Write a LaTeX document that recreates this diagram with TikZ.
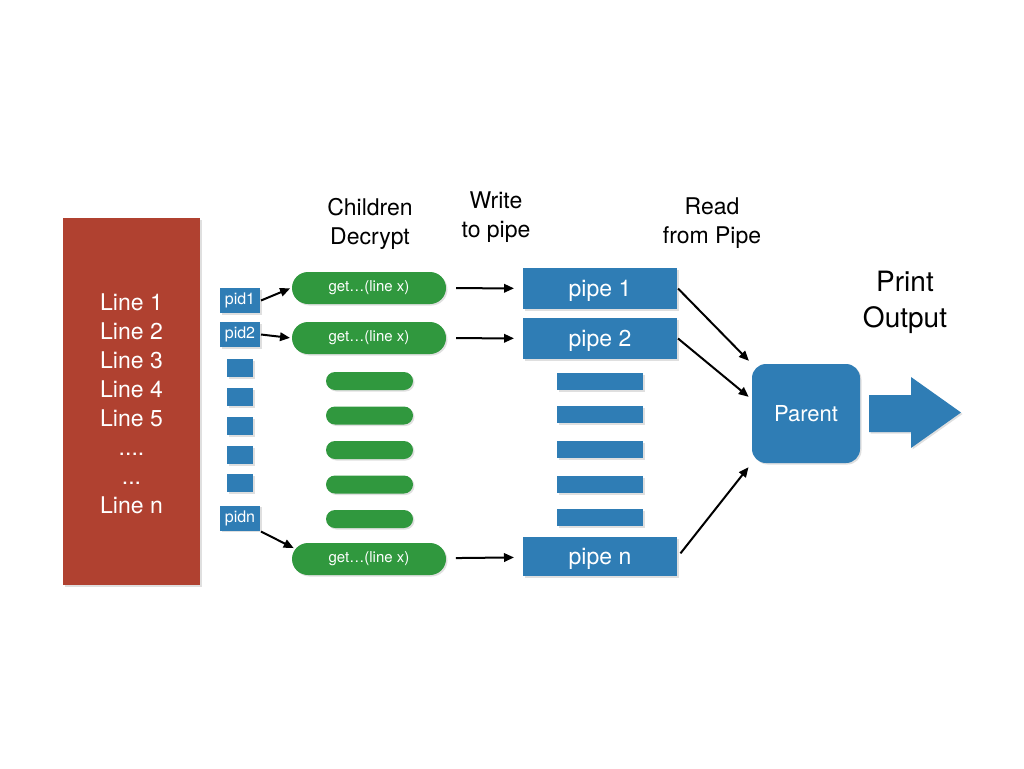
\documentclass[tikz,border=0pt]{standalone}
\usepackage{fontspec}
\setmainfont{TeX Gyre Heros}
\usetikzlibrary{positioning,shapes.misc,shadows,arrows.meta}

\definecolor{linered}{HTML}{B04130}
\definecolor{pipeblue}{HTML}{2F7DB5}
\definecolor{childgreen}{HTML}{30983E}

\tikzset{
  soft/.style={drop shadow={shadow xshift=1.5pt,shadow yshift=-1.5pt,opacity=0.25}},
  linebox/.style={fill=linered,soft,text=white,align=center,
    minimum width=137pt,minimum height=367pt,font=\fontsize{23}{29}\selectfont},
  pidbox/.style={fill=pipeblue,soft,text=white,inner sep=0pt,
    minimum width=40pt,minimum height=25pt,font=\fontsize{16}{18}\selectfont},
  pidstub/.style={fill=pipeblue,soft,inner sep=0pt,minimum width=26pt,minimum height=18pt},
  child/.style={rounded rectangle,fill=childgreen,soft,text=white,inner sep=0pt,
    minimum width=154pt,minimum height=32pt,font=\fontsize{15}{18}\selectfont},
  childstub/.style={rounded rectangle,fill=childgreen,soft,inner sep=0pt,
    minimum width=87pt,minimum height=18pt},
  pipebox/.style={fill=pipeblue,soft,text=white,inner sep=0pt,text depth=0pt,
    minimum width=154pt,minimum height=41pt,font=\fontsize{23}{28}\selectfont},
  pipestub/.style={fill=pipeblue,soft,inner sep=0pt,minimum width=86pt,minimum height=17pt},
  parentbox/.style={fill=pipeblue,soft,text=white,rounded corners=14pt,inner sep=0pt,
    minimum width=108pt,minimum height=99pt,font=\fontsize{22}{26}\selectfont},
  heading/.style={align=center,font=\fontsize{23}{29}\selectfont},
}

\begin{document}
\begin{tikzpicture}[x=1pt,y=-1pt,shorten >=1pt,on grid,
    >={Triangle[length=10pt,width=8.5pt]},line width=2pt]
    \useasboundingbox (0,0) rectangle (1024,768);

    % input lines
    \node[linebox] (lines) at (131.5,401.5) {};
    \node[text=white,align=center,font=\fontsize{23}{29}\selectfont] (linetext) at (131.5,404)
      {Line 1\\Line 2\\Line 3\\Line 4\\Line 5\\....\\...\\Line n};

    % children
    \node[pidbox] (pid1) at (240,300.5) {pid1};
    \node[pidbox] (pid2) at (240,334.5) {pid2};
    \node[pidstub] (s1) at (240,368) {};
    \node[pidstub] (s2) [below = 29pt of s1] {};
    \node[pidstub] (s3) [below = 29pt of s2] {};
    \node[pidstub] (s4) [below = 29pt of s3] {};
    \node[pidstub] (s5) [below = 28pt of s4] {};
    \node[pidbox] (pidn) at (240,518) {pidn};

    \node[child] (get1) at (369,288) {get…(line x)};
    \node[child] (get2) at (369,338) {get…(line x)};
    \node[childstub] (c1) at (369.5,381) {};
    \node[childstub] (c2) [below = 34.5pt of c1] {};
    \node[childstub] (c3) [below = 34.5pt of c2] {};
    \node[childstub] (c4) [below = 34.5pt of c3] {};
    \node[childstub] (c5) [below = 34.5pt of c4] {};
    \node[child] (getn) at (369,559) {get…(line x)};

    % pipes
    \node[pipebox] (pipe1) at (600,288.5) {pipe 1};
    \node[pipebox] (pipe2) at (600,338.5) {pipe 2};
    \node[pipestub] (p1) at (600,381.5) {};
    \node[pipestub] (p2) [below = 33pt of p1] {};
    \node[pipestub] (p3) [below = 35pt of p2] {};
    \node[pipestub] (p4) [below = 35pt of p3] {};
    \node[pipestub] (p5) [below = 33pt of p4] {};
    \node[pipebox,minimum height=39pt] (pipen) at (600,556.5) {pipe n};

    \node[parentbox] (parent) at (806,413.5) {Parent};

    % output arrow
    \fill[pipeblue,soft] (869,395) -- (911,395) -- (911,377) -- (961,412.5)
      -- (911,448) -- (911,432) -- (869,432) -- cycle;

    % headings
    \node[heading] (hchild) at (370,223.5) {Children\\Decrypt};
    \node[heading] (hwrite) at (496,217.5) {Write\\to pipe};
    \node[heading] (hread) at (712,223.5) {Read\\from Pipe};
    \node[heading,font=\fontsize{28}{36}\selectfont] (hprint) at (905,302) {Print\\Output};

    \path[->]
    (pid1.east) edge [] (get1.west)
    (pid2.east) edge [] (get2.west)
    (pidn.south east) edge [] (getn.172)
    (get1) edge [shorten <=9pt, shorten >=8pt] (pipe1)
    (get2) edge [shorten <=9pt, shorten >=8pt] (pipe2)
    (getn) edge [shorten <=9pt, shorten >=8pt] (pipen)
    (pipe1.east) edge [shorten >=3pt] (parent.north west)
    (pipe2.east) edge [shorten >=3pt] (parent.165)
    (pipen.east) edge [shorten <=4pt, shorten >=4pt] (parent.south west)
    ;
\end{tikzpicture}
\end{document}
